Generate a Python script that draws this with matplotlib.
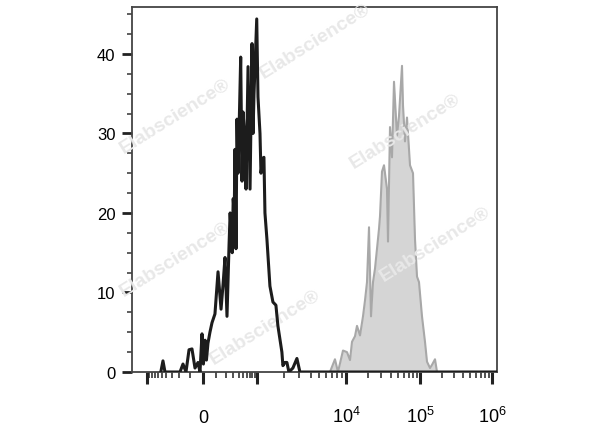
import numpy as np
import matplotlib
matplotlib.use('Agg')
import matplotlib.pyplot as plt
from matplotlib.ticker import FixedLocator, MultipleLocator

plt.rcParams['font.family'] = ['Liberation Sans', 'DejaVu Sans']
plt.rcParams['mathtext.fontset'] = 'custom'
plt.rcParams['mathtext.rm'] = 'Liberation Sans'
plt.rcParams['mathtext.it'] = 'Liberation Sans:italic'
plt.rcParams['mathtext.bf'] = 'Liberation Sans:bold'

# control (black line): fluorescence value, count
black_x = [-520, -468, -424, -329, -192, -160, -131, -104, -80, -57, -35, -21, -7, 3, 15, 25,
           36, 51, 67, 91, 118, 147, 168, 190, 214, 241, 256, 287, 303, 320, 333, 351,
           370, 390, 410, 447, 478, 503, 555, 584, 645, 712, 784, 824, 865, 987, 1026,
           1081, 1109, 1168, 1198, 1230, 1295, 1400, 1513, 1635, 1722, 1909, 1960, 2064,
           2173, 2289, 2538, 2815, 3042, 1.17e6]
black_y = [0, 1.4, 0, 0, 0, 1.0, 0, 2.8, 2.9, 0.5, 1.2, 0, 4.8, 1.0, 4.0, 1.5,
           3.6, 5.0, 6.2, 7.3, 12.6, 7.9, 11, 14.4, 7, 16, 20, 15, 21.8, 19.9, 28, 15.5,
           31.8, 25, 30, 39.6, 24, 32.7, 29, 23, 38.4, 23, 41.3, 30, 35, 44.4, 34.6,
           30, 25, 26.9, 27, 20, 16.7, 10.8, 8.8, 8.4, 5.8, 2.5, 0.8, 1.2,
           1.2, 0, 0.5, 1.7, 0, 0]

# stained sample (grey filled)
gray_x = [6610, 7521, 8130, 9254, 10316, 11330, 12054, 13230, 14080, 15460, 16970, 18060,
          19220, 20460, 21770, 23170, 24650, 26240, 27920, 28810, 30650, 32620, 35820,
          36950, 39320, 41840, 44530, 48890, 52030, 57130, 58930, 62700, 66720, 73280,
          80440, 85600, 91110, 96940, 106600, 117300, 125100, 137700, 146800, 161600, 172300]
gray_y = [0, 1.6, 0, 2.7, 2.5, 1.5, 3.8, 4.5, 5.8, 4.6, 7.0, 9,
          11.3, 18.2, 7, 11.3, 13, 15.5, 18, 19.6, 25.2, 26, 23,
          16.4, 30.8, 27, 36.5, 29.7, 32.2, 38.5, 33.5, 29, 32, 26,
          25, 16.7, 12, 11.3, 7, 3.8, 1.3, 0.5, 0.9, 1.6, 0]

major_vals = [-1e3, 0, 1e3, 1e4, 1e5, 1e6]
major_labels = ['', '0', '', '$10^{4}$', '$10^{5}$', '$10^{6}$']

# biex style axis: asinh, then stretched so decades sit where FlowJo put them
W = 150.0
T = np.concatenate([[-12.0], np.arcsinh(np.array(major_vals) / W), [12.0]])
P = np.array([-218., 147., 203., 257., 346., 420., 492., 570.])


def forward(v):
    return np.interp(np.arcsinh(np.asarray(v, dtype=float) / W), T, P)


def inverse(p):
    return W * np.sinh(np.interp(np.asarray(p, dtype=float), P, T))


minor_vals = [-k * 100 for k in range(1, 10)] + [k * 100 for k in range(1, 10)]
for e in [3, 4, 5]:
    minor_vals += [k * 10 ** e for k in range(2, 10)]

fig = plt.figure(figsize=(6, 4.27), dpi=100)
ax = fig.add_axes([132 / 600, 1 - 373 / 427, 365.5 / 600, 365 / 427])
ax.set_xscale('function', functions=(forward, inverse))

ax.fill_between(gray_x, gray_y, 0, color='#d5d5d5', lw=0, zorder=1)
ax.plot(gray_x, gray_y, color='#a8a8a8', lw=1.5, zorder=2)
ax.plot(black_x, black_y, color='#1c1c1c', lw=2.2, zorder=4)

# watermark
wm = [(175, 117), (315, 42), (405, 132), (435, 245), (175, 260), (265, 328)]
for px, py in wm:
    ax.text(px / 600, 1 - py / 427, 'Elabscience\u00ae', transform=fig.transFigure,
            rotation=32, ha='center', va='center', rotation_mode='anchor',
            fontsize=14, fontweight='bold', color='#e8e8e8', zorder=3, clip_on=False)

ax.set_xlim(inverse(132), inverse(497.5))
ax.set_ylim(0, 45.9)

ax.set_xticks(major_vals, labels=major_labels, va='baseline', fontsize=13)
ax.xaxis.set_minor_locator(FixedLocator(minor_vals))
ax.set_yticks([0, 10, 20, 30, 40])
ax.yaxis.set_minor_locator(MultipleLocator(2.5))

ax.tick_params(axis='x', which='major', length=8.5, width=2.2, pad=27.5, color='#222222')
ax.tick_params(axis='x', which='minor', length=4.5, width=1.1, color='#222222')
ax.tick_params(axis='y', which='major', length=7, width=2, pad=5, labelsize=12,
               color='#222222')
ax.tick_params(axis='y', which='minor', length=3.5, width=1.1, color='#333333')

for s in ax.spines.values():
    s.set_color('#444444')
    s.set_linewidth(1.3)

fig.savefig('out.png', dpi=100)
